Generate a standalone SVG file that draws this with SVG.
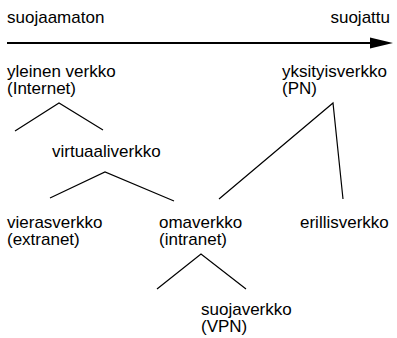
<svg xmlns="http://www.w3.org/2000/svg" width="397" height="338" viewBox="0 0 397 338">
<style>
text{font-family:"Liberation Sans",Arial,sans-serif;font-size:17px;fill:#000}
.l{stroke:#000;stroke-width:1.2;fill:none}
</style>
<rect width="397" height="338" fill="#fff"/>
<g id="axis">
<text x="7" y="23">suojaamaton</text>
<text x="390" y="23" text-anchor="end">suojattu</text>
<line x1="7" y1="43" x2="372" y2="43" stroke="#000" stroke-width="2"/>
<polygon points="370,37.5 393,43 370,48.5" fill="#000"/>
</g>
<g id="internet"><text x="7" y="77">yleinen verkko<tspan x="7" dy="17">(Internet)</tspan></text></g>
<g id="pn"><text x="282" y="77">yksityisverkko<tspan x="282" dy="17">(PN)</tspan></text></g>
<g id="virtuaali"><text x="52" y="157">virtuaaliverkko</text></g>
<g id="extranet"><text x="7" y="228">vierasverkko<tspan x="7" dy="17">(extranet)</tspan></text></g>
<g id="intranet"><text x="159" y="228">omaverkko<tspan x="159" dy="17">(intranet)</tspan></text></g>
<g id="erillis"><text x="300" y="228">erillisverkko</text></g>
<g id="vpn"><text x="201" y="315">suojaverkko<tspan x="201" dy="17">(VPN)</tspan></text></g>
<g id="connectors" class="l">
<polyline points="15,131 59,103 103,130"/>
<polyline points="50,198 105,172 174,201"/>
<polyline points="219,199 333,103 343,199"/>
<polyline points="157,289 201,254 246,289"/>
</g>
</svg>
